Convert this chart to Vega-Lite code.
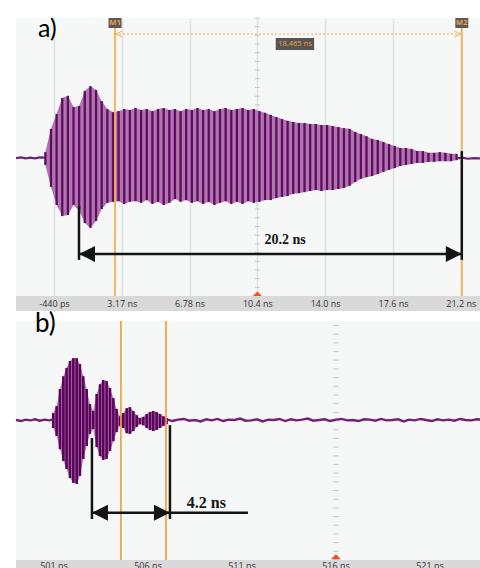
{
  "$schema": "https://vega.github.io/schema/vega-lite/v6.json",
  "background": "#ffffff",
  "padding": {"left": 11, "top": 17, "right": 0, "bottom": 0},
  "bounds": "flush",
  "spacing": 10,
  "config": {
    "view": {"fill": "#f5f8f6", "stroke": null},
    "axisY": {"minExtent": 0},
    "axisX": {"minExtent": 0}
  },
  "datasets": {
    "a_env": [
      {"t":-0.9,"hi":0.14,"lo":-0.23},{"t":-0.6,"hi":0.81,"lo":-0.86},{"t":-0.3,"hi":1.24,"lo":-1.38},{"t":0.0,"hi":1.70,"lo":-1.70},
      {"t":0.3,"hi":1.76,"lo":-1.67},{"t":0.6,"hi":1.44,"lo":-1.38},{"t":0.9,"hi":1.47,"lo":-1.53},{"t":1.2,"hi":1.90,"lo":-1.90},
      {"t":1.5,"hi":2.04,"lo":-2.04},{"t":1.8,"hi":1.93,"lo":-1.84},{"t":2.1,"hi":1.61,"lo":-1.50},{"t":2.4,"hi":1.38,"lo":-1.32},
      {"t":2.7,"hi":1.29,"lo":-1.29},{"t":3.0,"hi":1.32,"lo":-1.27},{"t":3.3,"hi":1.38,"lo":-1.35},{"t":3.6,"hi":1.35,"lo":-1.29},
      {"t":3.9,"hi":1.41,"lo":-1.27},{"t":4.2,"hi":1.35,"lo":-1.32},{"t":4.5,"hi":1.38,"lo":-1.24},{"t":4.8,"hi":1.32,"lo":-1.35},
      {"t":5.1,"hi":1.38,"lo":-1.29},{"t":5.4,"hi":1.41,"lo":-1.38},{"t":5.7,"hi":1.35,"lo":-1.32},{"t":6.0,"hi":1.38,"lo":-1.21},
      {"t":6.3,"hi":1.32,"lo":-1.29},{"t":6.6,"hi":1.38,"lo":-1.24},{"t":6.9,"hi":1.35,"lo":-1.32},{"t":7.2,"hi":1.41,"lo":-1.27},
      {"t":7.5,"hi":1.35,"lo":-1.35},{"t":7.8,"hi":1.38,"lo":-1.29},{"t":8.1,"hi":1.32,"lo":-1.38},{"t":8.4,"hi":1.38,"lo":-1.32},
      {"t":8.7,"hi":1.41,"lo":-1.27},{"t":9.0,"hi":1.35,"lo":-1.35},{"t":9.3,"hi":1.38,"lo":-1.29},{"t":9.6,"hi":1.41,"lo":-1.35},
      {"t":9.9,"hi":1.35,"lo":-1.27},{"t":10.2,"hi":1.38,"lo":-1.32},{"t":10.5,"hi":1.32,"lo":-1.29},{"t":10.8,"hi":1.27,"lo":-1.24},
      {"t":11.1,"hi":1.21,"lo":-1.24},{"t":11.4,"hi":1.15,"lo":-1.18},{"t":11.7,"hi":1.09,"lo":-1.15},{"t":12.0,"hi":1.04,"lo":-1.12},
      {"t":12.3,"hi":1.01,"lo":-1.06},{"t":12.6,"hi":0.98,"lo":-1.04},{"t":12.9,"hi":0.98,"lo":-1.01},{"t":13.2,"hi":0.95,"lo":-0.98},
      {"t":13.5,"hi":0.95,"lo":-0.95},{"t":13.8,"hi":0.92,"lo":-0.98},{"t":14.1,"hi":0.92,"lo":-0.95},{"t":14.4,"hi":0.89,"lo":-0.95},
      {"t":14.7,"hi":0.86,"lo":-0.92},{"t":15.0,"hi":0.83,"lo":-0.89},{"t":15.3,"hi":0.81,"lo":-0.83},{"t":15.6,"hi":0.72,"lo":-0.72},
      {"t":15.9,"hi":0.66,"lo":-0.63},{"t":16.2,"hi":0.60,"lo":-0.58},{"t":16.5,"hi":0.52,"lo":-0.55},{"t":16.8,"hi":0.49,"lo":-0.49},
      {"t":17.1,"hi":0.43,"lo":-0.43},{"t":17.4,"hi":0.37,"lo":-0.37},{"t":17.7,"hi":0.32,"lo":-0.32},{"t":18.0,"hi":0.26,"lo":-0.26},
      {"t":18.3,"hi":0.26,"lo":-0.23},{"t":18.6,"hi":0.23,"lo":-0.20},{"t":18.9,"hi":0.17,"lo":-0.17},{"t":19.2,"hi":0.17,"lo":-0.17},
      {"t":19.5,"hi":0.12,"lo":-0.14},{"t":19.8,"hi":0.12,"lo":-0.14},{"t":20.1,"hi":0.14,"lo":-0.12},{"t":20.4,"hi":0.12,"lo":-0.12},
      {"t":20.7,"hi":0.09,"lo":-0.12},{"t":21.0,"hi":0.09,"lo":-0.09}
    ],
    "a_base": [
      {"seg":"pre","t":-2.463,"v":-0.03},{"seg":"pre","t":-2.2,"v":-0.01},{"seg":"pre","t":-1.95,"v":-0.04},{"seg":"pre","t":-1.7,"v":-0.02},
      {"seg":"pre","t":-1.45,"v":-0.04},{"seg":"pre","t":-1.2,"v":-0.01},{"seg":"pre","t":-0.9,"v":-0.02},
      {"seg":"post","t":21.0,"v":-0.04},{"seg":"post","t":21.3,"v":-0.02},{"seg":"post","t":21.6,"v":-0.05},{"seg":"post","t":21.9,"v":-0.03},
      {"seg":"post","t":22.2,"v":-0.04},{"seg":"post","t":22.51,"v":-0.03}
    ],
    "a_ticks": [
      {"d":-4},{"d":-3.75},{"d":-3.5},{"d":-3.25},{"d":-3},{"d":-2.75},{"d":-2.5},{"d":-2.25},{"d":-2},{"d":-1.75},{"d":-1.5},
      {"d":-1.25},{"d":-1},{"d":-0.75},{"d":-0.5},{"d":-0.25},{"d":0},{"d":0.25},{"d":0.5},{"d":0.75},{"d":1},{"d":1.25},
      {"d":1.5},{"d":1.75},{"d":2},{"d":2.25},{"d":2.5},{"d":2.75},{"d":3},{"d":3.25},{"d":3.5},{"d":3.75},{"d":4}
    ],
    "b_env": [
      {"t":500.96,"hi":0.23,"lo":-0.20},{"t":501.14,"hi":0.43,"lo":-0.43},{"t":501.32,"hi":0.92,"lo":-0.81},{"t":501.50,"hi":1.29,"lo":-1.15},
      {"t":501.67,"hi":1.53,"lo":-1.38},{"t":501.85,"hi":1.73,"lo":-1.64},{"t":502.03,"hi":1.81,"lo":-1.78},{"t":502.21,"hi":1.81,"lo":-1.81},
      {"t":502.38,"hi":1.64,"lo":-1.58},{"t":502.56,"hi":1.29,"lo":-1.09},{"t":502.74,"hi":0.92,"lo":-0.72},{"t":502.91,"hi":0.49,"lo":-0.37},
      {"t":503.09,"hi":0.29,"lo":-0.23},{"t":503.27,"hi":0.78,"lo":-0.75},{"t":503.45,"hi":1.06,"lo":-1.01},{"t":503.62,"hi":1.18,"lo":-1.12},
      {"t":503.80,"hi":1.15,"lo":-1.09},{"t":503.98,"hi":0.95,"lo":-0.86},{"t":504.16,"hi":0.66,"lo":-0.58},{"t":504.33,"hi":0.35,"lo":-0.32},
      {"t":504.51,"hi":0.14,"lo":-0.14},{"t":504.69,"hi":0.23,"lo":-0.20},{"t":504.87,"hi":0.37,"lo":-0.35},{"t":505.04,"hi":0.40,"lo":-0.37},
      {"t":505.22,"hi":0.29,"lo":-0.29},{"t":505.40,"hi":0.17,"lo":-0.17},{"t":505.57,"hi":0.09,"lo":-0.09},{"t":505.75,"hi":0.12,"lo":-0.12},
      {"t":505.93,"hi":0.20,"lo":-0.20},{"t":506.11,"hi":0.26,"lo":-0.26},{"t":506.28,"hi":0.29,"lo":-0.29},{"t":506.46,"hi":0.26,"lo":-0.26},
      {"t":506.64,"hi":0.20,"lo":-0.20},{"t":506.82,"hi":0.14,"lo":-0.14},{"t":506.99,"hi":0.09,"lo":-0.09}
    ],
    "b_base": [
      {"seg":"pre","t":498.98,"v":0.03},{"seg":"pre","t":499.25,"v":0.0},{"seg":"pre","t":499.5,"v":0.04},{"seg":"pre","t":499.75,"v":0.02},
      {"seg":"pre","t":500.0,"v":0.05},{"seg":"pre","t":500.25,"v":0.01},{"seg":"pre","t":500.5,"v":0.04},{"seg":"pre","t":500.75,"v":0.02},
      {"seg":"pre","t":500.96,"v":0.05},
      {"seg":"post","t":507.0,"v":0.05},{"seg":"post","t":507.3,"v":0.0},{"seg":"post","t":507.6,"v":0.04},{"seg":"post","t":507.9,"v":0.06},
      {"seg":"post","t":508.2,"v":0.01},{"seg":"post","t":508.5,"v":0.03},{"seg":"post","t":508.8,"v":-0.01},{"seg":"post","t":509.1,"v":0.05},
      {"seg":"post","t":509.4,"v":0.02},{"seg":"post","t":509.7,"v":0.06},{"seg":"post","t":510.0,"v":0.0},{"seg":"post","t":510.3,"v":0.04},
      {"seg":"post","t":510.6,"v":0.03},{"seg":"post","t":510.9,"v":0.07},{"seg":"post","t":511.2,"v":0.01},{"seg":"post","t":511.5,"v":0.02},
      {"seg":"post","t":511.8,"v":0.05},{"seg":"post","t":512.1,"v":-0.01},{"seg":"post","t":512.4,"v":0.04},{"seg":"post","t":512.7,"v":0.03},
      {"seg":"post","t":513.0,"v":0.06},{"seg":"post","t":513.3,"v":0.0},{"seg":"post","t":513.6,"v":0.05},{"seg":"post","t":513.9,"v":0.02},
      {"seg":"post","t":514.2,"v":0.04},{"seg":"post","t":514.5,"v":0.07},{"seg":"post","t":514.8,"v":0.01},{"seg":"post","t":515.1,"v":0.03},
      {"seg":"post","t":515.4,"v":0.05},{"seg":"post","t":515.7,"v":0.0},{"seg":"post","t":516.0,"v":0.04},{"seg":"post","t":516.3,"v":0.06},
      {"seg":"post","t":516.6,"v":0.02},{"seg":"post","t":516.9,"v":0.03},{"seg":"post","t":517.2,"v":0.0},{"seg":"post","t":517.5,"v":0.05},
      {"seg":"post","t":517.8,"v":0.04},{"seg":"post","t":518.1,"v":0.01},{"seg":"post","t":518.4,"v":0.06},{"seg":"post","t":518.7,"v":0.02},
      {"seg":"post","t":519.0,"v":0.03},{"seg":"post","t":519.3,"v":0.05},{"seg":"post","t":519.6,"v":-0.01},{"seg":"post","t":519.9,"v":0.04},
      {"seg":"post","t":520.2,"v":0.02},{"seg":"post","t":520.5,"v":0.06},{"seg":"post","t":520.8,"v":0.03},{"seg":"post","t":521.1,"v":0.0},
      {"seg":"post","t":521.4,"v":0.05},{"seg":"post","t":521.7,"v":0.02},{"seg":"post","t":522.0,"v":0.04},{"seg":"post","t":522.3,"v":0.01},
      {"seg":"post","t":522.6,"v":0.06},{"seg":"post","t":522.9,"v":0.03},{"seg":"post","t":523.2,"v":0.02},{"seg":"post","t":523.5,"v":0.05},
      {"seg":"post","t":523.93,"v":0.03}
    ],
    "b_ticks": [
      {"d":-4},{"d":-3.75},{"d":-3.5},{"d":-3.25},{"d":-3},{"d":-2.75},{"d":-2.5},{"d":-2.25},{"d":-2},{"d":-1.75},{"d":-1.5},
      {"d":-1.25},{"d":-1},{"d":-0.75},{"d":-0.5},{"d":-0.25},{"d":0},{"d":0.25},{"d":0.5},{"d":0.75},{"d":1},{"d":1.25},
      {"d":1.5},{"d":1.75},{"d":2},{"d":2.25},{"d":2.5},{"d":2.75}
    ]
  },
  "vconcat": [
    {
      "width": 469,
      "height": 293,
      "resolve": {"axis": {"x": "independent"}},
      "layer": [
        {
          "data": {"name": "a_ticks"},
          "mark": {"type": "rule", "color": "#c6c9c7", "strokeWidth": 1},
          "encoding": {
            "x": {"datum": 10.255, "type": "quantitative", "scale": {"domain": [-2.463, 22.51], "nice": false, "zero": false},
                  "axis": {"orient": "bottom", "values": [-0.44, 3.17, 6.78, 10.39, 14.0, 17.61, 21.22], "grid": true, "gridColor": "#dfe2e0", "gridWidth": 1.5, "labels": false, "ticks": false, "domain": false, "title": null}},
            "x2": {"datum": 10.525},
            "y": {"field": "d", "type": "quantitative", "scale": {"domain": [-4.432, 4], "nice": false, "zero": false},
                  "axis": {"values": [-3, -2, -1, 0, 1, 2, 3], "grid": true, "gridColor": "#dfe2e0", "gridWidth": 1.5, "labels": false, "ticks": false, "domain": false, "title": null}}
          }
        },
        {
          "data": {"name": "a_env"},
          "mark": {"type": "area", "color": "#b074b0", "opacity": 1},
          "encoding": {
            "x": {"field": "t", "type": "quantitative", "axis": null},
            "y": {"field": "hi", "type": "quantitative", "axis": null},
            "y2": {"field": "lo"}
          }
        },
        {
          "data": {"name": "a_env"},
          "mark": {"type": "rule", "color": "#5e0c5e", "strokeWidth": 2.3},
          "encoding": {
            "x": {"field": "t", "type": "quantitative", "axis": null},
            "y": {"field": "hi", "type": "quantitative", "axis": null},
            "y2": {"field": "lo"}
          }
        },
        {
          "data": {"name": "a_base"},
          "mark": {"type": "line", "color": "#74207a", "strokeWidth": 2.2},
          "encoding": {
            "x": {"field": "t", "type": "quantitative", "axis": null},
            "y": {"field": "v", "type": "quantitative", "axis": null},
            "detail": {"field": "seg"}
          }
        },
        {
          "data": {"values": [{"t": 2.81}, {"t": 21.275}]},
          "mark": {"type": "rule", "color": "#f7ad55", "strokeWidth": 2, "opacity": 0.9},
          "encoding": {
            "x": {"field": "t", "type": "quantitative", "axis": null},
            "y": {"datum": 3.71, "type": "quantitative", "axis": null},
            "y2": {"datum": -4}
          }
        },
        {
          "data": {"values": [{"t1": 2.81, "t2": 21.275, "d": 3.54}]},
          "mark": {"type": "rule", "color": "#f7ad55", "strokeWidth": 1, "strokeDash": [2, 2]},
          "encoding": {
            "x": {"field": "t1", "type": "quantitative", "axis": null},
            "x2": {"field": "t2"},
            "y": {"field": "d", "type": "quantitative", "axis": null}
          }
        },
        {
          "data": {"values": [{"t": 2.86, "d": 3.54, "dir": "l"}, {"t": 21.2, "d": 3.54, "dir": "r"}]},
          "mark": {"type": "point", "filled": false, "color": "#f7ad55", "strokeWidth": 1, "size": 36, "opacity": 1},
          "encoding": {
            "x": {"field": "t", "type": "quantitative", "axis": null},
            "y": {"field": "d", "type": "quantitative", "axis": null},
            "shape": {"field": "dir", "type": "nominal", "scale": {"domain": ["l", "r"], "range": ["M2,-1L0,0L2,1", "M-2,-1L0,0L-2,1"]}, "legend": null}
          }
        },
        {
          "data": {"values": [{"t": 2.81, "n": "M1"}, {"t": 21.275, "n": "M2"}]},
          "mark": {"type": "point", "filled": true, "color": "#5a5a5a", "size": 100, "opacity": 1, "shape": "M-1.3,-1L1.3,-1L1.3,1L-1.3,1Z"},
          "encoding": {
            "x": {"field": "t", "type": "quantitative", "axis": null},
            "y": {"datum": 3.856, "type": "quantitative", "axis": null}
          }
        },
        {
          "data": {"values": [{"t": 2.81, "n": "M1"}, {"t": 21.275, "n": "M2"}]},
          "mark": {"type": "text", "color": "#f0a040", "fontSize": 7.5, "fontWeight": "bold", "font": "Open Sans", "baseline": "middle"},
          "encoding": {
            "x": {"field": "t", "type": "quantitative", "axis": null},
            "y": {"datum": 3.856, "type": "quantitative", "axis": null},
            "text": {"field": "n"}
          }
        },
        {
          "data": {"values": [{"t": 12.39, "d": 3.25, "s": "18.465 ns"}]},
          "mark": {"type": "point", "filled": true, "color": "#555555", "size": 144, "opacity": 1, "shape": "M-3.2,-1L3.2,-1L3.2,1L-3.2,1Z"},
          "encoding": {
            "x": {"field": "t", "type": "quantitative", "axis": null},
            "y": {"field": "d", "type": "quantitative", "axis": null}
          }
        },
        {
          "data": {"values": [{"t": 12.39, "d": 3.25, "s": "18.465 ns"}]},
          "mark": {"type": "text", "color": "#f0a040", "fontSize": 7.5, "font": "Open Sans", "baseline": "middle"},
          "encoding": {
            "x": {"field": "t", "type": "quantitative", "axis": null},
            "y": {"field": "d", "type": "quantitative", "axis": null},
            "text": {"field": "s"}
          }
        },
        {
          "data": {"values": [
            {"t1": 0.891, "t2": 0.891, "v1": -1.41, "v2": -2.96},
            {"t1": 21.275, "t2": 21.275, "v1": 0.17, "v2": -2.96},
            {"t1": 0.891, "t2": 21.275, "v1": -2.79, "v2": -2.79}
          ]},
          "mark": {"type": "rule", "color": "#141414", "strokeWidth": 2.5},
          "encoding": {
            "x": {"field": "t1", "type": "quantitative", "axis": null},
            "x2": {"field": "t2"},
            "y": {"field": "v1", "type": "quantitative", "axis": null},
            "y2": {"field": "v2"}
          }
        },
        {
          "data": {"values": [{"t": 0.891, "d": -2.79, "dir": "l"}, {"t": 21.275, "d": -2.79, "dir": "r"}]},
          "mark": {"type": "point", "filled": true, "color": "#141414", "size": 256, "opacity": 1},
          "encoding": {
            "x": {"field": "t", "type": "quantitative", "axis": null},
            "y": {"field": "d", "type": "quantitative", "axis": null},
            "shape": {"field": "dir", "type": "nominal", "scale": {"domain": ["l", "r"], "range": ["M0,0L2,-0.6L1.5,0L2,0.6Z", "M0,0L-2,-0.6L-1.5,0L-2,0.6Z"]}, "legend": null}
          }
        },
        {
          "data": {"values": [{"t": 11.86, "d": -2.4, "s": "20.2 ns"}]},
          "mark": {"type": "text", "color": "#141414", "fontSize": 14, "fontWeight": "bold", "font": "Liberation Serif", "baseline": "middle"},
          "encoding": {
            "x": {"field": "t", "type": "quantitative", "axis": null},
            "y": {"field": "d", "type": "quantitative", "axis": null},
            "text": {"field": "s"}
          }
        },
        {
          "data": {"values": [{"t": 10.39, "d": -3.94}]},
          "mark": {"type": "point", "filled": true, "color": "#ff4a1c", "size": 100, "opacity": 1, "shape": "M-1,0.5L1,0.5L0,-0.5Z"},
          "encoding": {
            "x": {"field": "t", "type": "quantitative", "axis": null},
            "y": {"field": "d", "type": "quantitative", "axis": null}
          }
        },
        {
          "data": {"values": [{}]},
          "mark": {"type": "rect", "color": "#d9d9d9"},
          "encoding": {
            "x": {"datum": -2.463, "type": "quantitative",
                  "axis": {"orient": "bottom", "values": [-0.44, 3.17, 6.78, 10.39, 14.0, 17.61, 21.22],
                           "labelExpr": "datum.value < 0 ? '-440 ps' : format(datum.value, '.3r') + ' ns'",
                           "grid": false, "ticks": false, "domain": false, "labels": true, "labelFont": "Open Sans", "labelFontSize": 9,
                           "labelColor": "#333333", "labelPadding": 2, "offset": -14, "zindex": 1, "title": null, "labelFlush": false, "labelOverlap": false}},
            "x2": {"datum": 22.51},
            "y": {"datum": -4, "type": "quantitative", "axis": null},
            "y2": {"datum": -4.432}
          }
        },
        {
          "data": {"values": [{"t": -1.29, "d": 3.68, "s": "a)"}]},
          "mark": {"type": "text", "color": "#000000", "fontSize": 25, "font": "Lato", "align": "left", "baseline": "middle"},
          "encoding": {
            "x": {"field": "t", "type": "quantitative", "axis": null},
            "y": {"field": "d", "type": "quantitative", "axis": null},
            "text": {"field": "s"}
          }
        }
      ]
    },
    {
      "width": 469,
      "height": 248,
      "layer": [
        {
          "data": {"name": "b_ticks"},
          "mark": {"type": "rule", "color": "#c6c9c7", "strokeWidth": 1},
          "encoding": {
            "x": {"datum": 515.865, "type": "quantitative", "scale": {"domain": [498.98, 523.93], "nice": false, "zero": false},
                  "axis": {"orient": "bottom", "values": [501, 506, 511, 516, 521], "grid": true, "gridColor": "#dfe2e0", "gridWidth": 1.5, "labels": false, "ticks": false, "domain": false, "title": null}},
            "x2": {"datum": 516.135},
            "y": {"field": "d", "type": "quantitative", "scale": {"domain": [-4.26, 2.88], "nice": false, "zero": false},
                  "axis": {"values": [-3, -2, -1, 0, 1, 2], "grid": true, "gridColor": "#dfe2e0", "gridWidth": 1.5, "labels": false, "ticks": false, "domain": false, "title": null}}
          }
        },
        {
          "data": {"name": "b_env"},
          "mark": {"type": "area", "color": "#b57db5", "opacity": 1},
          "encoding": {
            "x": {"field": "t", "type": "quantitative", "axis": null},
            "y": {"field": "hi", "type": "quantitative", "axis": null},
            "y2": {"field": "lo"}
          }
        },
        {
          "data": {"name": "b_env"},
          "mark": {"type": "rule", "color": "#5a045a", "strokeWidth": 2.6},
          "encoding": {
            "x": {"field": "t", "type": "quantitative", "axis": null},
            "y": {"field": "hi", "type": "quantitative", "axis": null},
            "y2": {"field": "lo"}
          }
        },
        {
          "data": {"name": "b_base"},
          "mark": {"type": "line", "color": "#74207a", "strokeWidth": 2.4},
          "encoding": {
            "x": {"field": "t", "type": "quantitative", "axis": null},
            "y": {"field": "v", "type": "quantitative", "axis": null},
            "detail": {"field": "seg"}
          }
        },
        {
          "data": {"values": [{"t": 504.56}, {"t": 506.96}]},
          "mark": {"type": "rule", "color": "#f49a30", "strokeWidth": 1.6},
          "encoding": {
            "x": {"field": "t", "type": "quantitative", "axis": null},
            "y": {"datum": 2.88, "type": "quantitative", "axis": null},
            "y2": {"datum": -4}
          }
        },
        {
          "data": {"values": [
            {"t1": 503.02, "t2": 503.02, "v1": -0.49, "v2": -2.82},
            {"t1": 507.17, "t2": 507.17, "v1": -0.12, "v2": -2.82},
            {"t1": 503.02, "t2": 511.32, "v1": -2.64, "v2": -2.64}
          ]},
          "mark": {"type": "rule", "color": "#141414", "strokeWidth": 2.5},
          "encoding": {
            "x": {"field": "t1", "type": "quantitative", "axis": null},
            "x2": {"field": "t2"},
            "y": {"field": "v1", "type": "quantitative", "axis": null},
            "y2": {"field": "v2"}
          }
        },
        {
          "data": {"values": [{"t": 503.02, "d": -2.64, "dir": "l"}, {"t": 507.17, "d": -2.64, "dir": "r"}]},
          "mark": {"type": "point", "filled": true, "color": "#141414", "size": 256, "opacity": 1},
          "encoding": {
            "x": {"field": "t", "type": "quantitative", "axis": null},
            "y": {"field": "d", "type": "quantitative", "axis": null},
            "shape": {"field": "dir", "type": "nominal", "scale": {"domain": ["l", "r"], "range": ["M0,0L2,-0.6L1.5,0L2,0.6Z", "M0,0L-2,-0.6L-1.5,0L-2,0.6Z"]}, "legend": null}
          }
        },
        {
          "data": {"values": [{"t": 509.11, "d": -2.35, "s": "4.2 ns"}]},
          "mark": {"type": "text", "color": "#141414", "fontSize": 16, "fontWeight": "bold", "font": "Liberation Serif", "baseline": "middle"},
          "encoding": {
            "x": {"field": "t", "type": "quantitative", "axis": null},
            "y": {"field": "d", "type": "quantitative", "axis": null},
            "text": {"field": "s"}
          }
        },
        {
          "data": {"values": [{"t": 516, "d": -3.91}]},
          "mark": {"type": "point", "filled": true, "color": "#ff4a1c", "size": 100, "opacity": 1, "shape": "M-1,0.5L1,0.5L0,-0.5Z"},
          "encoding": {
            "x": {"field": "t", "type": "quantitative", "axis": null},
            "y": {"field": "d", "type": "quantitative", "axis": null}
          }
        },
        {
          "data": {"values": [{}]},
          "mark": {"type": "rect", "color": "#d9d9d9"},
          "encoding": {
            "x": {"datum": 498.98, "type": "quantitative", "axis": null},
            "x2": {"datum": 523.93},
            "y": {"datum": -4, "type": "quantitative", "axis": null},
            "y2": {"datum": -4.26}
          }
        },
        {
          "data": {"values": [{"t": 501, "s": "501 ns"}, {"t": 506, "s": "506 ns"}, {"t": 511, "s": "511 ns"}, {"t": 516, "s": "516 ns"}, {"t": 521, "s": "521 ns"}]},
          "mark": {"type": "text", "color": "#333333", "fontSize": 9, "font": "Open Sans", "baseline": "top", "clip": true},
          "encoding": {
            "x": {"field": "t", "type": "quantitative", "axis": null},
            "y": {"datum": -4.06, "type": "quantitative", "axis": null},
            "text": {"field": "s"}
          }
        },
        {
          "data": {"values": [{"t": 499.99, "d": 2.78, "s": "b)"}]},
          "mark": {"type": "text", "color": "#000000", "fontSize": 26, "font": "Lato", "align": "left", "baseline": "middle"},
          "encoding": {
            "x": {"field": "t", "type": "quantitative", "axis": null},
            "y": {"field": "d", "type": "quantitative", "axis": null},
            "text": {"field": "s"}
          }
        }
      ]
    }
  ]
}
